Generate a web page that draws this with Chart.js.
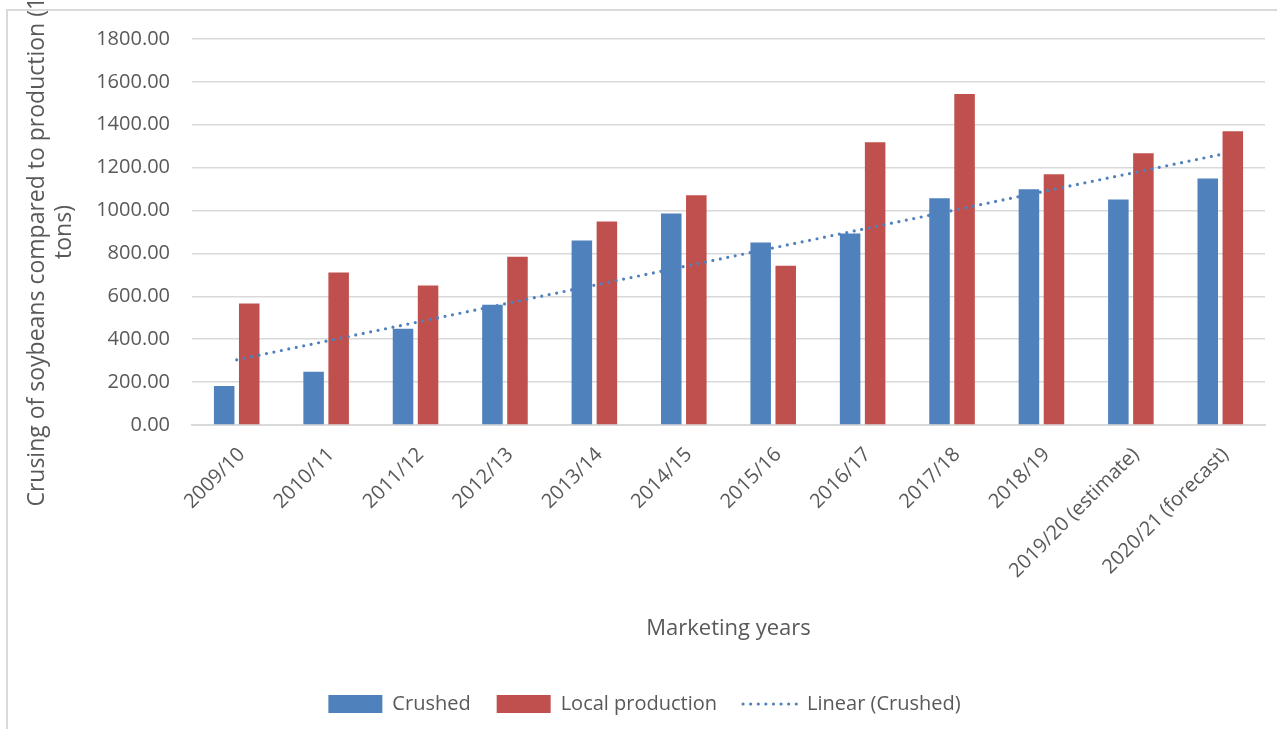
<!DOCTYPE html>
<html>
<head>
<meta charset="utf-8">
<title>Crushing of soybeans compared to production</title>
<script src="https://cdn.jsdelivr.net/npm/chart.js@4.4.1/dist/chart.umd.min.js"></script>
<style>
  html, body { margin: 0; padding: 0; background: #fff; overflow: hidden; }
  #wrap { position: relative; width: 1277px; height: 729px; }
  /* chart frame: only the left and top edges are visible in the picture */
  #frame { position: absolute; left: 6px; top: 9px; right: -10px; bottom: -10px;
           border-left: 2px solid #d9d9d9; border-top: 2px solid #d9d9d9; }
  #chart { position: absolute; left: 0; top: 0; }
</style>
</head>
<body>
<div id="wrap">
  <div id="frame"></div>
  <canvas id="chart" width="1277" height="729"></canvas>
</div>
<script>
// ── Data (1000 tons) ───────────────────────────────────
const years = [
  '2009/10', '2010/11', '2011/12', '2012/13', '2013/14', '2014/15',
  '2015/16', '2016/17', '2017/18', '2018/19', '2019/20 (estimate)', '2020/21 (forecast)'
];
const crushed         = [182, 248, 449, 561, 860, 986, 851, 893, 1057, 1099, 1052, 1150];
const localProduction = [566, 711, 650, 785, 949, 1071, 743, 1318, 1543, 1169, 1267, 1370];
const trendCrushed    = [304, null, null, null, null, null, null, null, null, null, null, 1261];
const yTicks          = [0, 200, 400, 600, 800, 1000, 1200, 1400, 1600, 1800];

const BLUE = '#4f81bd';
const RED  = '#c0504d';
const TEXT = '#595959';
const GRID = '#d9d9d9';
const FONT = "'Open Sans', 'Liberation Sans', sans-serif";
const DOTS = [0, 7.6];

// legend: keep dataset order and show the trendline as a dotted line
function legendLabels(chart) {
  const items = Chart.defaults.plugins.legend.labels.generateLabels(chart);
  items.forEach((it) => {
    const ds = chart.data.datasets[it.datasetIndex];
    if (ds.type === 'line') {
      it.lineDash = DOTS;
      it.lineCap = 'round';
      it.lineWidth = 3.2;
      it.strokeStyle = BLUE;
    }
  });
  return items.sort((a, b) => a.datasetIndex - b.datasetIndex);
}

new Chart(document.getElementById('chart'), {
  data: {
    labels: years,
    datasets: [
      {
        type: 'bar', label: 'Crushed', data: crushed,
        backgroundColor: BLUE, borderWidth: 0, pointStyle: 'rect', order: 2,
      },
      {
        type: 'bar', label: 'Local production', data: localProduction,
        backgroundColor: RED, borderWidth: 0, pointStyle: 'rect', order: 3,
      },
      {
        type: 'line', label: 'Linear (Crushed)', data: trendCrushed,
        spanGaps: true, borderColor: BLUE, backgroundColor: BLUE,
        borderWidth: 3.2, borderDash: DOTS, borderCapStyle: 'round',
        pointRadius: 0, pointStyle: 'line', fill: false, order: 1,
      },
    ],
  },
  options: {
    responsive: false,
    animation: false,
    layout: { padding: { top: 39, right: 12, bottom: 5, left: 24 } },
    datasets: { bar: { categoryPercentage: 0.56, barPercentage: 0.82 } },
    plugins: {
      tooltip: { enabled: false },
      legend: {
        position: 'bottom',
        labels: {
          usePointStyle: true, pointStyleWidth: 54, boxHeight: 18,
          padding: 26, color: TEXT, font: { family: FONT, size: 20 },
          generateLabels: legendLabels,
        },
      },
    },
    scales: {
      x: {
        grid: { display: false, drawTicks: false },
        border: { display: true, color: GRID, width: 2 },
        ticks: {
          color: TEXT, font: { family: FONT, size: 20 },
          autoSkip: false, maxRotation: 45, minRotation: 45, padding: 18, labelOffset: 5,
        },
        title: {
          display: true, text: 'Marketing years', color: TEXT,
          font: { family: FONT, size: 22 }, padding: { top: 0, bottom: 26 },
        },
        afterFit: (scale) => { scale.height = 243; },
      },
      y: {
        min: 0, max: 1800,
        afterBuildTicks: (scale) => { scale.ticks = yTicks.map((v) => ({ value: v })); },
        grid: { color: GRID, lineWidth: 1.5, drawTicks: false },
        border: { display: false },
        ticks: {
          color: TEXT, font: { family: FONT, size: 20 }, padding: 22,
          callback: (v) => Number(v).toFixed(2),
        },
        title: {
          display: true,
          text: ['Crusing of soybeans compared to production (1000', 'tons)'],
          color: TEXT, font: { family: FONT, size: 23, lineHeight: 1.17 },
          padding: { top: 0, bottom: 0 },
        },
        afterFit: (scale) => { scale.width = 168; },
      },
    },
  },
});
</script>
</body>
</html>
